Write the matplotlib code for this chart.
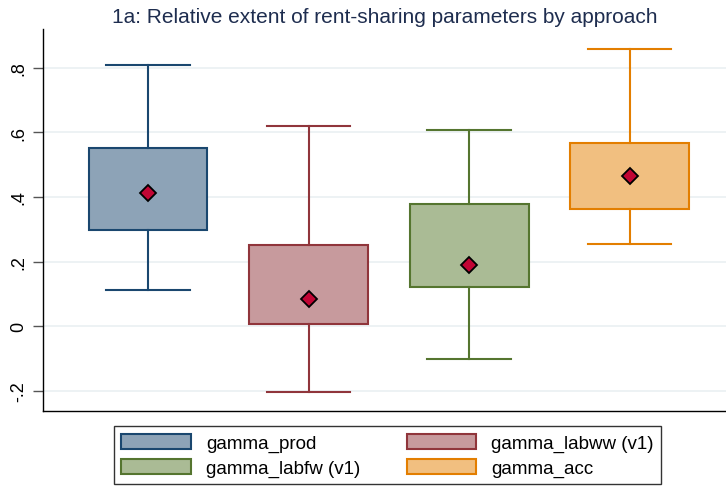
import matplotlib.pyplot as plt
from matplotlib.patches import Patch

# box statistics
labels = ['gamma_prod', 'gamma_labww (v1)', 'gamma_labfw (v1)', 'gamma_acc']
q1 = [0.298, 0.008, 0.122, 0.363]
q3 = [0.552, 0.252, 0.377, 0.566]
lo = [0.112, -0.203, -0.101, 0.256]
hi = [0.809, 0.620, 0.607, 0.859]
means = [0.413, 0.085, 0.190, 0.465]

edge_cols = ['#1a476f', '#90353b', '#55752f', '#e37e00']
fill_cols = ['#8da3b7', '#c79a9d', '#aabb95', '#f1bf80']

plt.rcParams['font.family'] = ['Liberation Sans', 'DejaVu Sans']

fig = plt.figure(figsize=(7.26, 4.89), dpi=100)
ax = fig.add_axes([0.0592, 0.1575, 0.9408, 0.7812])

stats = []
for i in range(4):
    stats.append({'q1': q1[i], 'q3': q3[i], 'med': q1[i], 'whislo': lo[i],
                  'whishi': hi[i], 'mean': means[i], 'fliers': []})

bp = ax.bxp(stats, positions=[1, 2, 3, 4], widths=0.74, patch_artist=True,
            showmeans=True, showfliers=False, capwidths=0.52,
            meanprops=dict(marker='D', markerfacecolor='#c10534', markeredgecolor='black',
                           markersize=8, markeredgewidth=1.3),
            medianprops=dict(linewidth=0))
for i in range(4):
    bp['boxes'][i].set_facecolor(fill_cols[i])
    bp['boxes'][i].set_edgecolor(edge_cols[i])
    bp['boxes'][i].set_linewidth(1.5)
    for j in (2 * i, 2 * i + 1):
        bp['whiskers'][j].set_color(edge_cols[i])
        bp['whiskers'][j].set_linewidth(1.5)
        bp['caps'][j].set_color(edge_cols[i])
        bp['caps'][j].set_linewidth(1.5)

ax.set_xlim(0.346, 4.6)
ax.set_ylim(-0.262, 0.92)
yt = [-0.2, 0, 0.2, 0.4, 0.6, 0.8]
ax.set_yticks(yt)
ax.set_yticklabels(['-.2', '0', '.2', '.4', '.6', '.8'], rotation=90, va='center', fontsize=13)
ax.tick_params(axis='y', length=7, width=1, color='#555555', pad=4)
ax.set_xticks([])
ax.grid(axis='y', color='#eaf0f2', linewidth=1.2)
ax.set_axisbelow(True)
for s in ('top', 'right'):
    ax.spines[s].set_visible(False)
for s in ('left', 'bottom'):
    ax.spines[s].set_color('black')
    ax.spines[s].set_linewidth(1.0)

fig.text(0.53, 0.965, '1a: Relative extent of rent-sharing parameters by approach',
         ha='center', va='center', fontsize=15, color='#1e2d4f')

# legend filled row by row like the original: prod, labww / labfw, acc
order = [0, 2, 1, 3]
handles = [Patch(facecolor=fill_cols[i], edgecolor=edge_cols[i], linewidth=1.5) for i in order]
leg = fig.legend(handles, [labels[i] for i in order], ncol=2, loc='center',
                 bbox_to_anchor=(0.534, 0.067),
                 frameon=True, fancybox=False, edgecolor='black', fontsize=13.5,
                 handlelength=3.7, handleheight=0.9, columnspacing=2.5,
                 labelspacing=0.35, borderpad=0.4, handletextpad=0.8, borderaxespad=0)
leg.get_frame().set_linewidth(1.0)

fig.savefig('out.png', dpi=100)
